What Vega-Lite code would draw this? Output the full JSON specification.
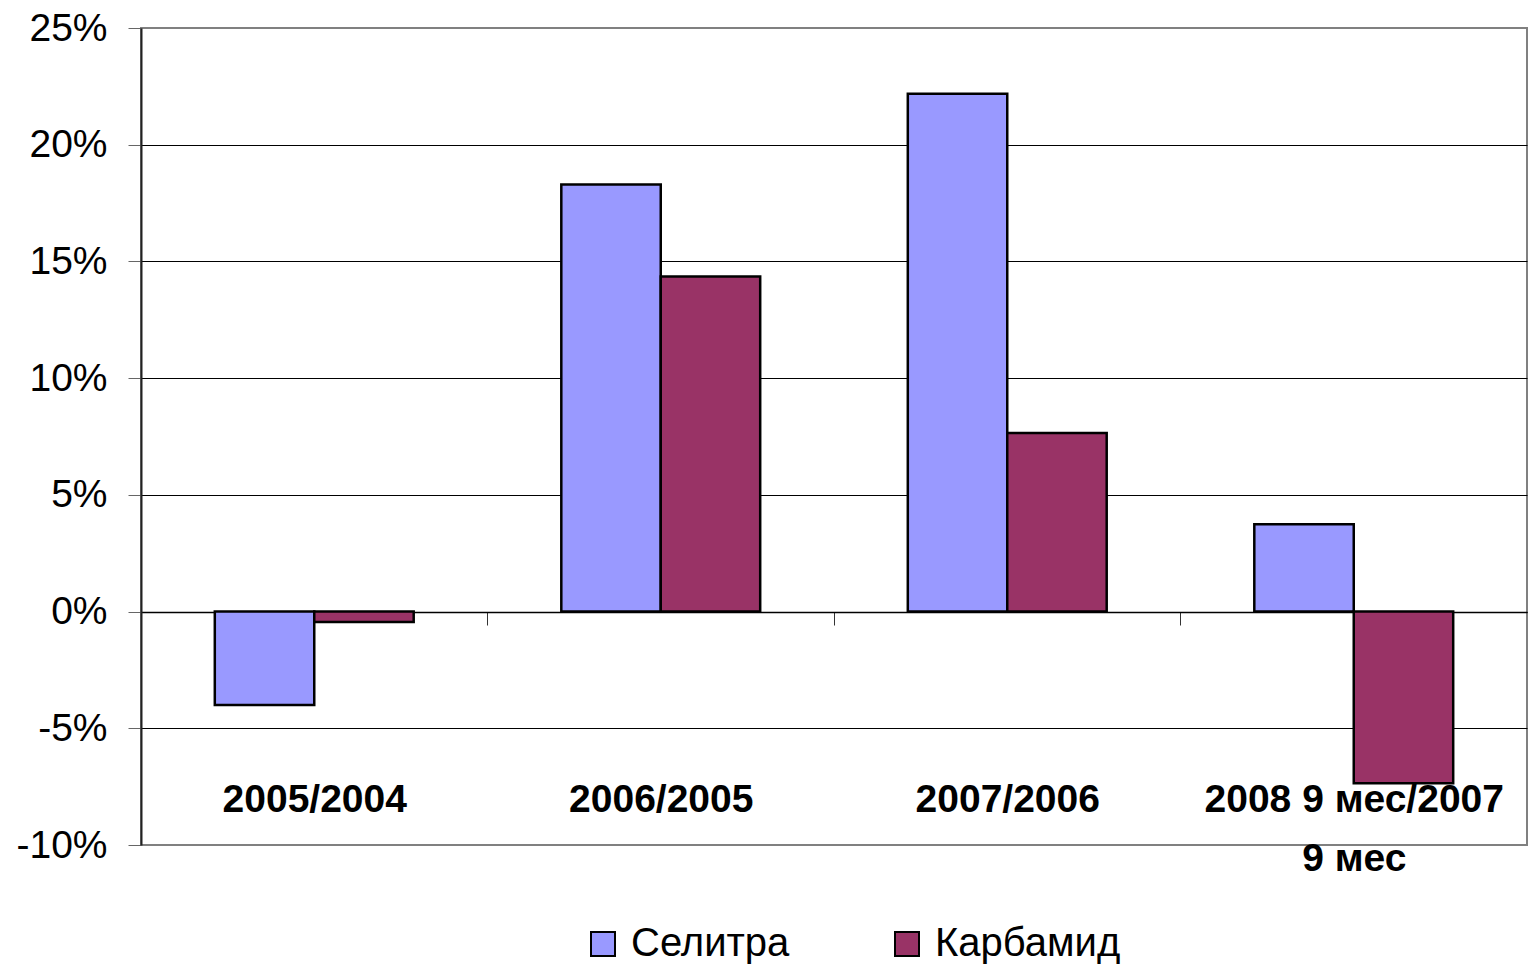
{
  "$schema": "https://vega.github.io/schema/vega-lite/v6.json",
  "width": 1386,
  "height": 817,
  "autosize": {"type": "none"},
  "padding": {"left": 141, "top": 28, "right": 2, "bottom": 124},
  "background": "white",
  "config": {
    "font": "Liberation Sans",
    "view": {"stroke": "#808080", "strokeWidth": 2}
  },
  "data": {
    "values": [
      {"period": "2005/2004", "product": "Селитра", "value": -0.040},
      {"period": "2005/2004", "product": "Карбамид", "value": -0.0045},
      {"period": "2006/2005", "product": "Селитра", "value": 0.183},
      {"period": "2006/2005", "product": "Карбамид", "value": 0.1435},
      {"period": "2007/2006", "product": "Селитра", "value": 0.2218},
      {"period": "2007/2006", "product": "Карбамид", "value": 0.0765},
      {"period": "2008 9 мес/2007|9 мес", "product": "Селитра", "value": 0.0374},
      {"period": "2008 9 мес/2007|9 мес", "product": "Карбамид", "value": -0.0736}
    ]
  },
  "mark": {"type": "bar", "stroke": "black", "strokeWidth": 2.5},
  "encoding": {
    "x": {
      "field": "period",
      "type": "nominal",
      "sort": null,
      "scale": {"paddingInner": 0.426, "paddingOuter": 0.213},
      "axis": {
        "title": null,
        "orient": "bottom",
        "offset": -233,
        "domainColor": "black",
        "domainWidth": 1.5,
        "tickColor": "#333",
        "tickSize": 13,
        "tickWidth": 1,
        "tickOffset": -173.3,
        "labelOffset": 173.3,
        "labelAngle": 0,
        "labelFont": "Liberation Sans",
        "labelFontSize": 39,
        "labelFontWeight": "bold",
        "labelColor": "black",
        "labelPadding": 155,
        "labelLineHeight": 59,
        "labelBaseline": "top",
        "labelLimit": 0,
        "labelOverlap": false,
        "labelExpr": "split(datum.label, '|')"
      }
    },
    "xOffset": {
      "field": "product",
      "type": "nominal",
      "sort": ["Селитра", "Карбамид"],
      "scale": {"paddingInner": 0, "paddingOuter": 0}
    },
    "y": {
      "field": "value",
      "type": "quantitative",
      "scale": {"domain": [-0.1, 0.25], "nice": false, "zero": false},
      "axis": {
        "title": null,
        "values": [-0.1, -0.05, 0, 0.05, 0.1, 0.15, 0.2, 0.25],
        "labelExpr": "replace(format(datum.value, '.0%'), '−', '-')",
        "labelFont": "Liberation Sans",
        "labelFontSize": 39,
        "labelColor": "black",
        "labelPadding": 21,
        "tickSize": 13,
        "tickColor": "#666",
        "domainColor": "#222",
        "domainWidth": 2,
        "grid": true,
        "gridColor": "black",
        "gridWidth": 1.2,
        "gridOpacity": {"condition": {"test": "datum.value > 0.24 || datum.value < -0.09", "value": 0}, "value": 1}
      }
    },
    "color": {
      "field": "product",
      "type": "nominal",
      "scale": {"domain": ["Селитра", "Карбамид"], "range": ["#9999FF", "#993366"]},
      "legend": {
        "title": null,
        "orient": "none",
        "direction": "horizontal",
        "legendX": 442,
        "legendY": 896,
        "padding": 0,
        "symbolType": "square",
        "symbolSize": 576,
        "symbolStrokeColor": "black",
        "symbolStrokeWidth": 2,
        "symbolOpacity": 1,
        "labelFont": "Liberation Sans",
        "labelFontSize": 40,
        "labelColor": "black",
        "labelOffset": 8,
        "labelLimit": 0,
        "columnPadding": 97
      }
    }
  }
}
